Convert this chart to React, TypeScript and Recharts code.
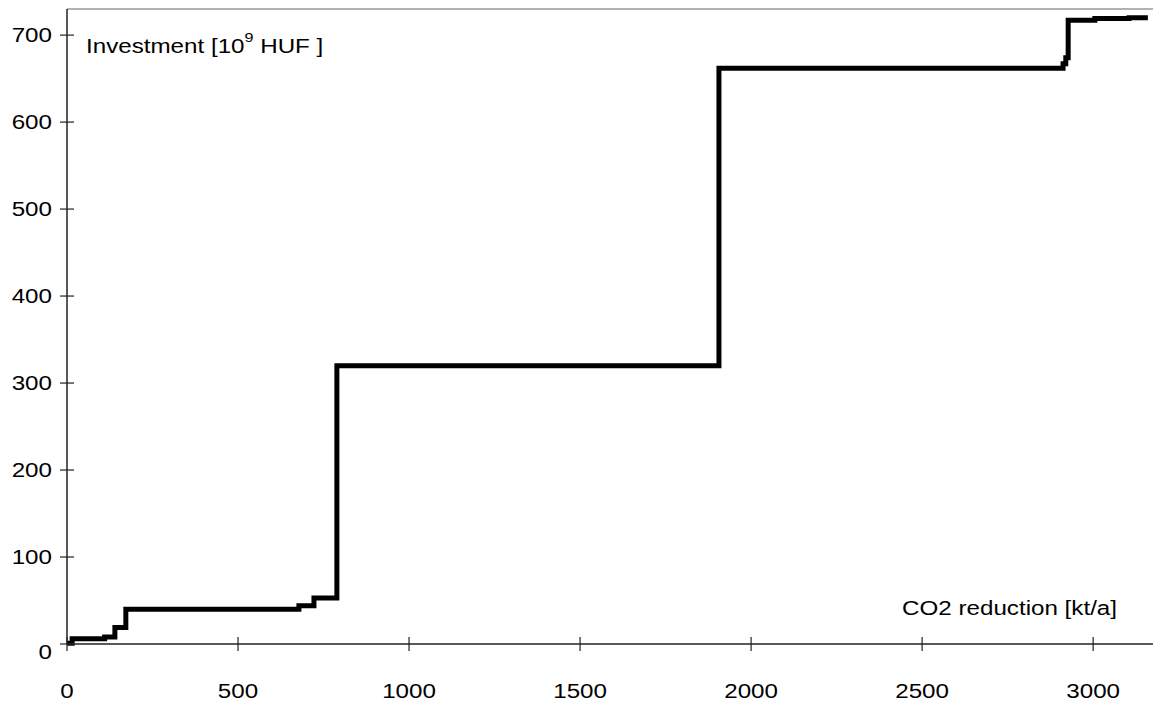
import { LineChart, Line, XAxis, YAxis, ReferenceLine, Label } from 'recharts'

// CO2 reduction [kt/a] at which each step starts, and investment from there on
const co2Reduction = [0, 15, 110, 140, 172, 678, 722, 789, 1906, 2912, 2920, 2927, 3005, 3105, 3160]
const investment = [1, 6, 8, 19, 40, 44, 53, 320, 662, 667, 674, 717, 719, 720, 720]

const xTicks = [0, 500, 1000, 1500, 2000, 2500, 3000]
const yTicks = [0, 100, 200, 300, 400, 500, 600, 700]
const xMax = 3175
const yMax = 730

const data = co2Reduction.map((c, i) => ({ co2: c, investment: investment[i] }))

const FONT = '"Liberation Sans", Arial, sans-serif'
const AXIS = '#222'

// the source glyphs are wider than they are tall, so stretch horizontally
function WideText({ x, y, anchor = 'start', children }: any) {
  return (
    <text
      transform={`translate(${x},${y}) scale(1.24,1)`}
      textAnchor={anchor}
      fontSize={19.5}
      fontFamily={FONT}
      fill="#000"
    >
      {children}
    </text>
  )
}

function XTick({ x, y, payload }: any) {
  return (
    <g>
      <line x1={x} x2={x} y1={y - 7} y2={y + 7} stroke={AXIS} strokeWidth={1.2} />
      <WideText x={x} y={y + 54} anchor="middle">
        {payload.value}
      </WideText>
    </g>
  )
}

function YTick({ x, y, payload }: any) {
  return (
    <g>
      <line x1={x - 7} x2={x + 7} y1={y} y2={y} stroke={AXIS} strokeWidth={1.2} />
      <WideText x={x - 15} y={y + (payload.value === 0 ? 15 : 7)} anchor="end">
        {payload.value}
      </WideText>
    </g>
  )
}

export default function App() {
  return (
    <div style={{ position: 'fixed', left: 0, top: 0, background: '#fff' }}>
      <LineChart width={1153} height={706} data={data} margin={{ top: 9, right: 0, left: 7, bottom: 22 }}>
        <ReferenceLine y={yMax} stroke="#999" strokeWidth={1.5} />
        <XAxis
          dataKey="co2"
          type="number"
          domain={[0, xMax]}
          ticks={xTicks}
          height={40}
          tickSize={0}
          tickMargin={0}
          tickLine={false}
          axisLine={{ stroke: AXIS, strokeWidth: 1.5 }}
          tick={<XTick />}
          interval={0}
        >
          <Label
            content={({ viewBox }: any) => (
              <WideText x={viewBox.x + viewBox.width - 36} y={viewBox.y - 29} anchor="end">
                CO2 reduction [kt/a]
              </WideText>
            )}
          />
        </XAxis>
        <YAxis
          type="number"
          domain={[0, yMax]}
          ticks={yTicks}
          width={60}
          tickSize={0}
          tickMargin={0}
          tickLine={false}
          axisLine={{ stroke: AXIS, strokeWidth: 1.5 }}
          tick={<YTick />}
          interval={0}
        >
          <Label
            content={({ viewBox }: any) => (
              <WideText x={viewBox.x + viewBox.width + 19} y={viewBox.y + 44}>
                Investment [10
                <tspan dy={-11} fontSize={13}>9</tspan>
                <tspan dy={11}> HUF ]</tspan>
              </WideText>
            )}
          />
        </YAxis>
        <Line
          type="stepAfter"
          dataKey="investment"
          stroke="#000"
          strokeWidth={5}
          dot={false}
          isAnimationActive={false}
        />
      </LineChart>
    </div>
  )
}
